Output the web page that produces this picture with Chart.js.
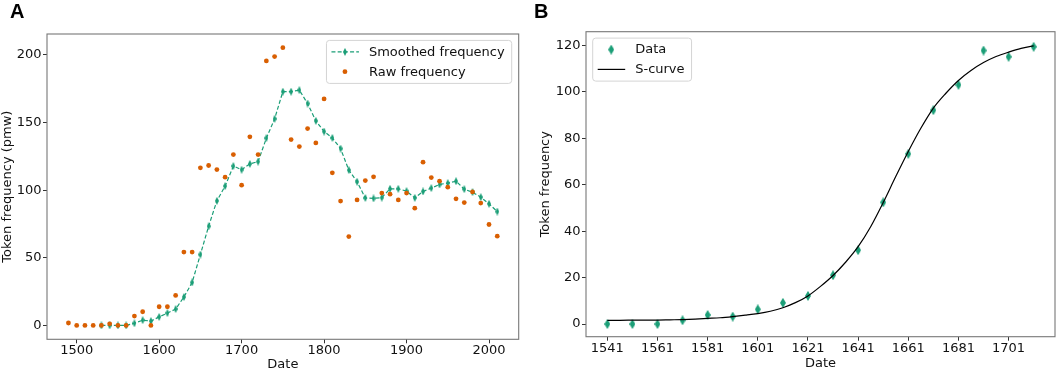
<!DOCTYPE html>
<html>
<head>
<meta charset="utf-8">
<script src="https://cdn.jsdelivr.net/npm/chart.js@4.4.1/dist/chart.umd.min.js"></script>
<style>
    html, body { margin: 0; padding: 0; background: #fff; overflow: hidden; }
    body { width: 1059px; height: 373px; position: relative; }
    .panel { position: absolute; top: 0; height: 373px; }
    #panelA { left: 0; width: 530px; }
    #panelB { left: 530px; width: 530px; }
    .tag { position: absolute; top: 0px; font: bold 20px "Liberation Sans", Arial, sans-serif; color: #000; }
</style>
</head>
<body>
<div class="panel" id="panelA"><canvas id="chartA" width="530" height="373"></canvas></div>
<div class="panel" id="panelB"><canvas id="chartB" width="530" height="373"></canvas></div>
<div class="tag" style="left:10px">A</div>
<div class="tag" style="left:534px">B</div>
<script>
// Panel A: raw and smoothed token frequency per decade
const rawYears = [1490, 1500, 1510, 1520, 1530, 1540, 1550, 1560, 1570, 1580, 1590, 1600, 1610, 1620,
    1630, 1640, 1650, 1660, 1670, 1680, 1690, 1700, 1710, 1720, 1730, 1740, 1750, 1760, 1770, 1780,
    1790, 1800, 1810, 1820, 1830, 1840, 1850, 1860, 1870, 1880, 1890, 1900, 1910, 1920, 1930, 1940,
    1950, 1960, 1970, 1980, 1990, 2000, 2010];
const rawFreq = [1.8, 0, 0, 0, 0, 1.2, 0, 0, 6.9, 10.1, 0, 13.8, 13.8, 22.2,
    54.2, 54.2, 116.5, 118.2, 115.2, 109.6, 126.3, 103.7, 139.4, 126.3, 195.5, 198.7, 205.3, 137.4, 132.2, 145.5,
    134.9, 167.4, 112.8, 91.9, 65.7, 92.8, 107.1, 109.8, 97.8, 97, 92.8, 97.8, 86.7, 120.7, 109.3, 106.6,
    102.2, 93.6, 90.8, 98.7, 90.4, 74.6, 66];

const smoothYears = [1530, 1540, 1550, 1560, 1570, 1580, 1590, 1600, 1610, 1620,
    1630, 1640, 1650, 1660, 1670, 1680, 1690, 1700, 1710, 1720, 1730, 1740, 1750, 1760, 1770, 1780,
    1790, 1800, 1810, 1820, 1830, 1840, 1850, 1860, 1870, 1880, 1890, 1900, 1910, 1920, 1930, 1940,
    1950, 1960, 1970, 1980, 1990, 2000, 2010];
const smoothFreq = [0, 0, 0, 0, 1.6, 3.9, 3.2, 6.3, 9.1, 12.1,
    21, 31.8, 52.4, 73.3, 92.1, 103, 117.8, 115.1, 119.4, 121.1, 138.4, 152.7, 172.8, 172.8, 173.9, 164,
    151.2, 143.3, 138.6, 130.7, 114.8, 106.2, 94.2, 93.9, 94.5, 101, 101, 99.3, 94.3, 99, 101.5, 104.2,
    105.2, 106.6, 100.7, 98.5, 94.8, 89.9, 84.2];

const xTicksA = [1500, 1600, 1700, 1800, 1900, 2000];
const yTicksA = [0, 50, 100, 150, 200];

// Panel B: data points and fitted S-curve
const dataYearsB = [1541, 1551, 1561, 1571, 1581, 1591, 1601, 1611, 1621, 1631, 1641, 1651, 1661,
    1671, 1681, 1691, 1701, 1711];
const dataFreqB = [0, 0, 0, 1.6, 3.9, 3.2, 6.3, 9.1, 12.1, 21, 31.8, 52.4, 73.3,
    92.1, 103, 117.8, 115.1, 119.4];

const curveYears = [1541, 1546, 1551, 1556, 1561, 1566, 1571, 1576, 1581, 1586, 1591, 1596, 1601, 1606,
    1611, 1616, 1621, 1626, 1631, 1636, 1641, 1646, 1651, 1656, 1661, 1666, 1671, 1676, 1681, 1686,
    1691, 1696, 1701, 1706, 1711];
const curveFreq = [1.6, 1.6, 1.65, 1.7, 1.7, 1.8, 1.9, 2.1, 2.4, 2.7, 3.2, 3.8, 4.5, 5.5,
    7.0, 9.2, 12.1, 16.2, 20.9, 26.6, 33.3, 41.9, 52.3, 63.5, 74.3, 84.3, 93.0, 99.4, 104.9, 109.2,
    112.6, 115.2, 117.1, 118.7, 119.8];

const xTicksB = [1541, 1561, 1581, 1601, 1621, 1641, 1661, 1681, 1701];
const yTicksB = [0, 20, 40, 60, 80, 100, 120];

const green = '#1b9e77';
const orange = '#d95f02';
const FONT = '13px "DejaVu Sans"';

Chart.defaults.font.family = '"DejaVu Sans", sans-serif';
Chart.defaults.font.size = 13;
Chart.defaults.color = '#111';

function thinDiamond(w, h, color) {
    const c = document.createElement('canvas');
    c.width = w;
    c.height = h;
    const g = c.getContext('2d');
    g.fillStyle = color;
    g.beginPath();
    g.moveTo(w / 2, 0);
    g.lineTo(w, h / 2);
    g.lineTo(w / 2, h);
    g.lineTo(0, h / 2);
    g.closePath();
    g.fill();
    return c;
}

const diamondA = thinDiamond(4, 8, green);
const diamondB = thinDiamond(6, 10, green);

const points = (xs, ys) => xs.map((x, i) => ({ x: x, y: ys[i] }));

// axes box drawn on top of the data, like matplotlib spines
const framePlugin = {
    id: 'frame',
    afterDatasetsDraw(chart) {
        const { ctx, chartArea: a } = chart;
        ctx.save();
        ctx.strokeStyle = '#777';
        ctx.lineWidth = 1.1;
        ctx.strokeRect(a.left, a.top, a.right - a.left, a.bottom - a.top);
        ctx.restore();
    }
};

// matplotlib style legend box in the corner of the plot
const legendPlugin = {
    id: 'mplLegend',
    afterDraw(chart, args, opts) {
        const { ctx, chartArea: a } = chart;
        const sets = chart.data.datasets;
        ctx.save();
        ctx.font = FONT;
        const textW = Math.max(...sets.map(d => ctx.measureText(d.label).width));
        const w = 42.5 + textW + 7;
        const h = 43;
        const x = opts.align === 'right' ? a.right - 7 - w : a.left + 6.7;
        const y = a.top + 6.4;

        ctx.beginPath();
        ctx.roundRect(x, y, w, h, 3);
        ctx.fillStyle = 'rgba(255,255,255,0.8)';
        ctx.fill();
        ctx.strokeStyle = '#d4d4d4';
        ctx.lineWidth = 1;
        ctx.stroke();

        sets.forEach((d, i) => {
            const cy = y + 11.5 + i * 19.8;
            if (d.showLine) {
                ctx.beginPath();
                ctx.setLineDash(d.borderDash || []);
                ctx.strokeStyle = d.borderColor;
                ctx.lineWidth = d.borderWidth;
                ctx.moveTo(x + 5, cy);
                ctx.lineTo(x + 32.5, cy);
                ctx.stroke();
                ctx.setLineDash([]);
            }
            if (d.pointStyle instanceof HTMLCanvasElement) {
                const img = d.pointStyle;
                ctx.drawImage(img, x + 18.5 - img.width / 2, cy - img.height / 2);
            } else if (d.pointStyle === 'circle' && d.pointRadius > 0) {
                ctx.beginPath();
                ctx.fillStyle = d.pointBackgroundColor;
                ctx.arc(x + 18.5, cy, d.pointRadius, 0, Math.PI * 2);
                ctx.fill();
            }
            ctx.fillStyle = '#111';
            ctx.textBaseline = 'middle';
            ctx.textAlign = 'left';
            ctx.fillText(d.label, x + 42.5, cy + 0.5);
        });
        ctx.restore();
    }
};

function axis(opts) {
    return {
        type: 'linear',
        min: opts.min,
        max: opts.max,
        afterBuildTicks: s => { s.ticks = opts.ticks.map(v => ({ value: v })); },
        afterFit: opts.fit,
        ticks: {
            callback: v => String(v),
            autoSkip: false,
            maxRotation: 0,
            padding: opts.tickPad,
            color: '#111',
            font: { size: 13 }
        },
        grid: { drawOnChartArea: false, drawTicks: true, tickLength: 4, tickColor: '#333', tickWidth: 1 },
        border: { display: false },
        title: { display: true, text: opts.title, color: '#111', font: { size: 13 }, padding: opts.titlePad }
    };
}

new Chart(document.getElementById('chartA'), {
    type: 'scatter',
    data: {
        datasets: [
            {
                label: 'Smoothed frequency',
                data: points(smoothYears, smoothFreq),
                showLine: true,
                borderColor: green,
                borderWidth: 1.2,
                borderDash: [4, 2.2],
                pointStyle: diamondA,
                pointRadius: 3,
                order: 1
            },
            {
                label: 'Raw frequency',
                data: points(rawYears, rawFreq),
                showLine: false,
                pointStyle: 'circle',
                pointRadius: 2.4,
                pointBackgroundColor: orange,
                pointBorderWidth: 0,
                borderColor: orange,
                order: 0
            }
        ]
    },
    options: {
        responsive: false,
        animation: false,
        events: [],
        layout: { padding: { top: 34, right: 11.3, bottom: 0, left: 0 } },
        plugins: {
            legend: { display: false },
            tooltip: { enabled: false },
            mplLegend: { align: 'right' }
        },
        scales: {
            x: axis({ min: 1464, max: 2036, ticks: xTicksA, tickPad: 0, title: 'Date',
                titlePad: { top: 0, bottom: 0.3 }, fit: s => { s.height = 33.7; } }),
            y: axis({ min: -10.25, max: 215.4, ticks: yTicksA, tickPad: 1.5, title: 'Token frequency (pmw)',
                titlePad: { top: 0, bottom: 0 }, fit: s => { s.width = 47; } })
        }
    },
    plugins: [framePlugin, legendPlugin]
});

new Chart(document.getElementById('chartB'), {
    type: 'scatter',
    data: {
        datasets: [
            {
                label: 'Data',
                data: points(dataYearsB, dataFreqB),
                showLine: false,
                pointStyle: diamondB,
                pointRadius: 4,
                borderColor: green,
                order: 1
            },
            {
                label: 'S-curve',
                data: points(curveYears, curveFreq),
                showLine: true,
                borderColor: '#000',
                borderWidth: 1.2,
                cubicInterpolationMode: 'monotone',
                pointRadius: 0,
                order: 0
            }
        ]
    },
    options: {
        responsive: false,
        animation: false,
        events: [],
        layout: { padding: { top: 31.7, right: 3, bottom: 0, left: 0 } },
        plugins: {
            legend: { display: false },
            tooltip: { enabled: false },
            mplLegend: { align: 'left' }
        },
        scales: {
            x: axis({ min: 1532.5, max: 1719.5, ticks: xTicksB, tickPad: 0, title: 'Date',
                titlePad: { top: 0, bottom: 1.9 }, fit: s => { s.height = 36.3; } }),
            y: axis({ min: -5.47, max: 125.9, ticks: yTicksB, tickPad: 1.5, title: 'Token frequency',
                titlePad: { top: 8.2, bottom: 0 }, fit: s => { s.width = 56; } })
        }
    },
    plugins: [framePlugin, legendPlugin]
});
</script>
</body>
</html>
